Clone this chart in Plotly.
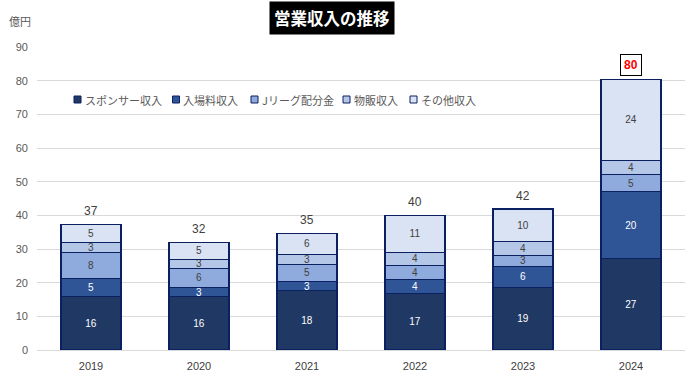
import plotly.graph_objects as go

years = ["2019", "2020", "2021", "2022", "2023", "2024"]
sponsor = [15.8, 15.8, 17.6, 16.8, 18.6, 27.1]
gate = [5.4, 2.8, 2.8, 4.2, 6.3, 19.9]
jleague = [7.8, 5.7, 5.0, 4.1, 3.1, 5.1]
merch = [3.0, 2.6, 3.0, 3.9, 4.3, 4.3]
other = [5.3, 5.1, 6.3, 11.0, 9.6, 23.9]

series_names = ["スポンサー収入", "入場料収入", "Jリーグ配分金", "物販収入", "その他収入"]
series_values = [sponsor, gate, jleague, merch, other]
fill_colors = ["#203864", "#2F5597", "#8FAADC", "#B4C7E7", "#DAE3F3"]
text_colors = ["#FFFFFF", "#FFFFFF", "#404040", "#404040", "#404040"]
BORDER = "#0B2060"

JP = "Noto Sans CJK JP"
NUM = "Liberation Sans"

# page pixels -> paper coords (plot area 37..685 x, 47..350 y)
PL, PW, PB, PH = 37.0, 648.0, 350.0, 303.0
def px(x):
    return (x - PL) / PW
def py(y):
    return (PB - y) / PH

fig = go.Figure()
for name, vals, fc, tc in zip(series_names, series_values, fill_colors, text_colors):
    fig.add_trace(go.Bar(
        x=years, y=vals, name=name,
        marker=dict(color=fc, line=dict(color=BORDER, width=1.2)),
        texttemplate="%{y:.0f}", textposition="inside", insidetextanchor="middle",
        textangle=0,
        textfont=dict(color=tc, size=10, family=NUM),
        constraintext="none", showlegend=False,
    ))

totals = [sum(v) for v in zip(*series_values)]
for i, t in enumerate(totals):
    if i == len(years) - 1:
        fig.add_annotation(x=i, y=t, text="<b>%d</b>" % round(t), showarrow=False,
                           xanchor="center", yanchor="bottom", yshift=4,
                           font=dict(color="#FF0000", size=12, family=NUM),
                           bordercolor="#000000", borderwidth=1, borderpad=3,
                           bgcolor="#FFFFFF")
    else:
        fig.add_annotation(x=i, y=t, text="%d" % round(t), showarrow=False,
                           xanchor="center", yanchor="bottom", yshift=4,
                           font=dict(color="#404040", size=12, family=NUM))

# title
fig.add_annotation(x=px(332), y=py(18), xref="paper", yref="paper",
                   xanchor="center", yanchor="middle",
                   text="<b>営業収入の推移</b>", showarrow=False,
                   font=dict(color="#FFFFFF", size=16.5, family=JP),
                   bgcolor="#000000", borderpad=4)
# unit label
fig.add_annotation(x=px(7), y=py(21), xref="paper", yref="paper",
                   xanchor="left", yanchor="middle",
                   text="億円", showarrow=False,
                   font=dict(color="#595959", size=11, family=JP))

# legend (manual, to match compact spacing)
legend_left = [74, 172.5, 251, 343, 410]
ly = 99.5
for name, fc, lx in zip(series_names, fill_colors, legend_left):
    fig.add_shape(type="rect", xref="paper", yref="paper",
                  x0=px(lx), x1=px(lx + 7), y0=py(ly + 3.5), y1=py(ly - 3.5),
                  fillcolor=fc, line=dict(color=BORDER, width=1))
    fig.add_annotation(x=px(lx + 8.5), y=py(ly), xref="paper", yref="paper",
                       xanchor="left", yanchor="middle", text=name, showarrow=False,
                       font=dict(color="#595959", size=11, family=JP))

fig.update_layout(
    width=688, height=372,
    margin=dict(l=37, r=3, t=47, b=22, autoexpand=False),
    paper_bgcolor="#FFFFFF", plot_bgcolor="#FFFFFF",
    barmode="stack", bargap=0.444,
    uniformtext=dict(minsize=10, mode="show"),
    showlegend=False,
    xaxis=dict(type="category", range=[-0.5, 5.5], showgrid=False, showline=True,
               linecolor="#D9D9D9", ticks="", ticklabelstandoff=6,
               tickfont=dict(size=11, color="#404040", family=NUM)),
    yaxis=dict(range=[0, 90], dtick=10, showgrid=True, gridcolor="#D9D9D9",
               zeroline=False, ticks="", ticklabelstandoff=8,
               tickfont=dict(size=11, color="#595959", family=NUM)),
)

fig.write_html("out.html", config={"displayModeBar": False},
               post_script="document.body.style.margin='0';")
